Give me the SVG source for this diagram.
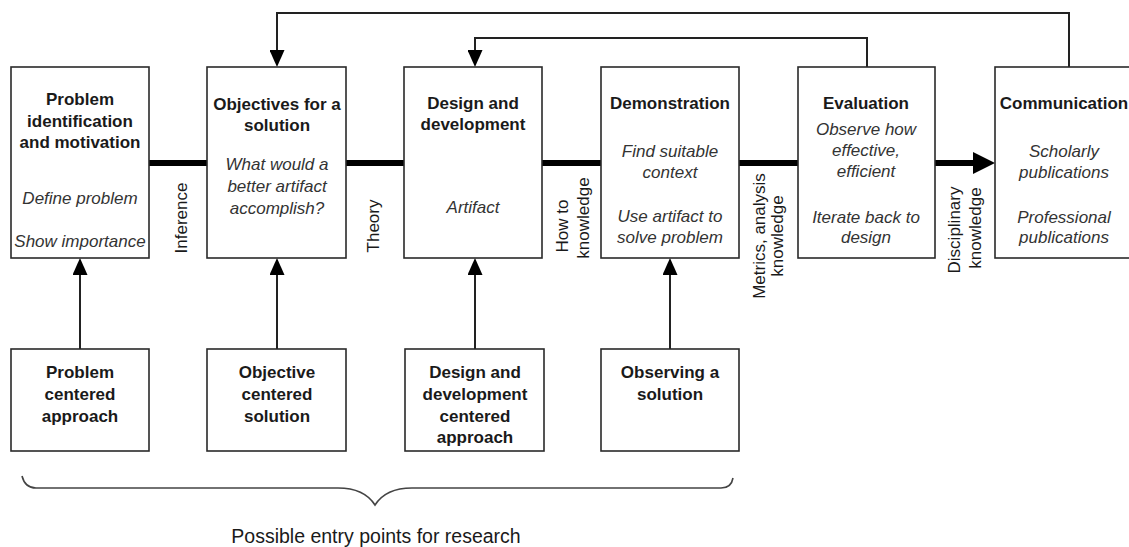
<svg xmlns="http://www.w3.org/2000/svg" width="1129" height="547" viewBox="0 0 1129 547">
  <defs>
    <style>
      .box { fill: #ffffff; stroke: #2a2a2a; stroke-width: 1.6; }
      .t { font-family: "Liberation Sans", Arial, sans-serif; font-size: 17px; fill: #1a1a1a; text-anchor: middle; }
      .b { font-weight: bold; }
      .i { font-style: italic; fill: #333333; }
      .thin { fill: none; stroke: #222222; stroke-width: 2; }
      .thick { fill: none; stroke: #000000; stroke-width: 6; }
      .brace { fill: none; stroke: #444444; stroke-width: 1.6; }
      .lbl { font-family: "Liberation Sans", Arial, sans-serif; font-size: 17px; fill: #1a1a1a; text-anchor: middle; }
    </style>
    <marker id="head" markerUnits="userSpaceOnUse" markerWidth="17" markerHeight="15" refX="0" refY="7.5" orient="auto">
      <path d="M0,0 L17,7.5 L0,15 z" fill="#000000"/>
    </marker>
    <marker id="bighead" markerUnits="userSpaceOnUse" markerWidth="22" markerHeight="22" refX="0" refY="11" orient="auto">
      <path d="M0,0 L22,11 L0,22 z" fill="#000000"/>
    </marker>
  </defs>

  <rect width="1129" height="547" fill="#ffffff"/>

  <!-- connectors -->
  <g id="connectors">
    <!-- main process chain -->
    <line class="thick" x1="149" y1="163" x2="207" y2="163"/>
    <line class="thick" x1="346" y1="163" x2="404" y2="163"/>
    <line class="thick" x1="542" y1="163" x2="601" y2="163"/>
    <line class="thick" x1="739" y1="163" x2="798" y2="163"/>
    <path class="thick" d="M935,163 H973" marker-end="url(#bighead)"/>
    <!-- iteration loops -->
    <path class="thin" d="M1069,67 V13 H277 V50" marker-end="url(#head)"/>
    <path class="thin" d="M867,67 V38 H475 V50" marker-end="url(#head)"/>
    <!-- entry points -->
    <path class="thin" d="M80,349 V275" marker-end="url(#head)"/>
    <path class="thin" d="M277,349 V275" marker-end="url(#head)"/>
    <path class="thin" d="M475,349 V275" marker-end="url(#head)"/>
    <path class="thin" d="M670,349 V275" marker-end="url(#head)"/>
  </g>

  <!-- process steps -->
  <g id="step-problem">
    <rect class="box" x="11" y="67" width="138" height="191"/>
    <text class="t b" x="80" y="105">Problem</text>
    <text class="t b" x="80" y="127">identification</text>
    <text class="t b" x="80" y="148">and motivation</text>
    <text class="t i" x="80" y="204">Define problem</text>
    <text class="t i" x="80" y="247">Show importance</text>
  </g>

  <g id="step-objectives">
    <rect class="box" x="207" y="67" width="139" height="191"/>
    <text class="t b" x="277" y="110">Objectives for a</text>
    <text class="t b" x="277" y="131">solution</text>
    <text class="t i" x="277" y="170">What would a</text>
    <text class="t i" x="277" y="192">better artifact</text>
    <text class="t i" x="277" y="214">accomplish?</text>
  </g>

  <g id="step-design">
    <rect class="box" x="404" y="67" width="138" height="191"/>
    <text class="t b" x="473" y="109">Design and</text>
    <text class="t b" x="473" y="130">development</text>
    <text class="t i" x="473" y="213">Artifact</text>
  </g>

  <g id="step-demonstration">
    <rect class="box" x="601" y="67" width="138" height="191"/>
    <text class="t b" x="670" y="109">Demonstration</text>
    <text class="t i" x="670" y="157">Find suitable</text>
    <text class="t i" x="670" y="178">context</text>
    <text class="t i" x="670" y="222">Use artifact to</text>
    <text class="t i" x="670" y="243">solve problem</text>
  </g>

  <g id="step-evaluation">
    <rect class="box" x="798" y="67" width="137" height="191"/>
    <text class="t b" x="866" y="109">Evaluation</text>
    <text class="t i" x="866" y="135">Observe how</text>
    <text class="t i" x="866" y="156">effective,</text>
    <text class="t i" x="866" y="177">efficient</text>
    <text class="t i" x="866" y="223">Iterate back to</text>
    <text class="t i" x="866" y="243">design</text>
  </g>

  <g id="step-communication">
    <rect class="box" x="995" y="67" width="140" height="191"/>
    <text class="t b" x="1064" y="109">Communication</text>
    <text class="t i" x="1064" y="157">Scholarly</text>
    <text class="t i" x="1064" y="178">publications</text>
    <text class="t i" x="1064" y="223">Professional</text>
    <text class="t i" x="1064" y="243">publications</text>
  </g>

  <!-- knowledge labels between steps -->
  <g id="labels">
    <text class="lbl" transform="translate(187,218) rotate(-90)">Inference</text>
    <text class="lbl" transform="translate(379,226) rotate(-90)">Theory</text>
    <text class="lbl" transform="translate(568,226) rotate(-90)">How to</text>
    <text class="lbl" transform="translate(589,218) rotate(-90)">knowledge</text>
    <text class="lbl" transform="translate(765,236) rotate(-90)">Metrics, analysis</text>
    <text class="lbl" transform="translate(783,236) rotate(-90)">knowledge</text>
    <text class="lbl" transform="translate(960,230) rotate(-90)">Disciplinary</text>
    <text class="lbl" transform="translate(981,228) rotate(-90)">knowledge</text>
  </g>

  <!-- research entry points -->
  <g id="entry-problem">
    <rect class="box" x="11" y="349" width="138" height="102"/>
    <text class="t b" x="80" y="378">Problem</text>
    <text class="t b" x="80" y="400">centered</text>
    <text class="t b" x="80" y="422">approach</text>
  </g>

  <g id="entry-objective">
    <rect class="box" x="207" y="349" width="139" height="102"/>
    <text class="t b" x="277" y="378">Objective</text>
    <text class="t b" x="277" y="400">centered</text>
    <text class="t b" x="277" y="422">solution</text>
  </g>

  <g id="entry-design">
    <rect class="box" x="405" y="349" width="139" height="102"/>
    <text class="t b" x="475" y="378">Design and</text>
    <text class="t b" x="475" y="400">development</text>
    <text class="t b" x="475" y="422">centered</text>
    <text class="t b" x="475" y="443">approach</text>
  </g>

  <g id="entry-observing">
    <rect class="box" x="601" y="349" width="138" height="102"/>
    <text class="t b" x="670" y="378">Observing a</text>
    <text class="t b" x="670" y="400">solution</text>
  </g>

  <!-- brace grouping the entry points -->
  <g id="entry-brace">
    <path class="brace" d="M22,476 C24,484 28,488 36,488 H338 C356,488 368,494 375,505 C382,494 394,488 412,488 H721 C728,488 732,484 733,478"/>
    <text class="t" x="376" y="543" style="font-size:19.5px">Possible entry points for research</text>
  </g>
</svg>
